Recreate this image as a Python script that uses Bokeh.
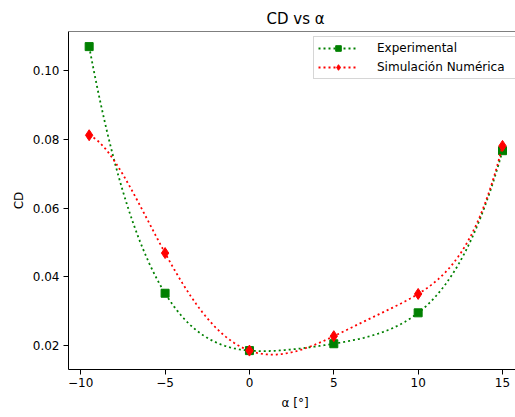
import numpy as np
from bokeh.plotting import figure
from bokeh.models import (Range1d, FixedTicker, Legend, LegendItem, Span,
                          Title, ColumnDataSource)
from bokeh.embed import file_html
from bokeh.resources import INLINE

# ---- data ----
alpha_deg = [-9.5, -5.0, 0.0, 5.0, 10.0, 15.0]
cd_experimental = [0.1070, 0.0352, 0.0185, 0.0205, 0.0295, 0.0767]
cd_simulation = [0.0812, 0.0469, 0.0185, 0.0227, 0.0350, 0.0781]
series_names = ["Experimental", "Simulación Numérica"]
x_ticks = [-10, -5, 0, 5, 10, 15]
x_tick_labels = ["−10", "−5", "0", "5", "10", "15"]
y_ticks = [0.02, 0.04, 0.06, 0.08, 0.10]
y_tick_labels = ["0.02", "0.04", "0.06", "0.08", "0.10"]

# smooth curves: the polynomial through the measured points, as in the reference
xs = np.linspace(min(alpha_deg), max(alpha_deg), 400)
deg = len(alpha_deg) - 1
smooth_exp = np.polyval(np.polyfit(alpha_deg, cd_experimental, deg), xs)
smooth_sim = np.polyval(np.polyfit(alpha_deg, cd_simulation, deg), xs)

FONT = "DejaVu Sans"
TXT = "#000000"

p = figure(width=515, height=417, output_backend="svg", toolbar_location=None,
           x_range=Range1d(-10.725, 15.77), y_range=Range1d(0.0130, 0.1114),
           min_border_left=68, min_border_right=0, min_border_top=31,
           min_border_bottom=48, background_fill_color="white",
           border_fill_color="white")
p.outline_line_color = None
p.xgrid.visible = False
p.ygrid.visible = False

for ax in (p.xaxis[0], p.yaxis[0]):
    ax.axis_line_color = "black"
    ax.major_tick_line_color = "black"
    ax.major_tick_out = 5
    ax.major_tick_in = 0
    ax.minor_tick_line_color = None
    ax.major_label_text_font = FONT
    ax.major_label_text_font_size = "12px"
    ax.major_label_text_color = TXT
    ax.axis_label_text_font = FONT
    ax.axis_label_text_font_size = "12px"
    ax.axis_label_text_font_style = "normal"
    ax.axis_label_text_color = TXT

p.xaxis.ticker = FixedTicker(ticks=x_ticks)
p.xaxis.major_label_overrides = dict(zip(x_ticks, x_tick_labels))
p.xaxis.major_label_standoff = 3
p.xaxis.axis_label = None
p.yaxis.ticker = FixedTicker(ticks=y_ticks)
p.yaxis.major_label_overrides = dict(zip(y_ticks, y_tick_labels))
p.yaxis.major_label_standoff = 4
p.yaxis.axis_label = "CD"
p.yaxis.axis_label_standoff = 4

# top spine of the frame
p.add_layout(Span(location=p.y_range.end, dimension="width",
                  line_color="black", line_width=1))

p.add_layout(Title(text="CD vs α", align="left", offset=198, text_font=FONT,
                   text_font_size="15px", text_font_style="normal",
                   text_color=TXT, standoff=8), "above")
p.add_layout(Title(text="α [°]", align="left", offset=213, text_font=FONT,
                   text_font_size="12px", text_font_style="normal",
                   text_color=TXT, standoff=8), "below")

src_exp = ColumnDataSource(dict(x=xs, y=smooth_exp))
src_sim = ColumnDataSource(dict(x=xs, y=smooth_sim))
l1 = p.line("x", "y", source=src_exp, line_color="green", line_width=1.8, line_dash="2 3")
s1 = p.scatter(alpha_deg, cd_experimental, marker="square", size=8,
               fill_color="green", line_color="green")
l2 = p.line("x", "y", source=src_sim, line_color="red", line_width=1.8, line_dash="2 3")
s2 = p.scatter(alpha_deg, cd_simulation, marker="diamond", size=11,
               fill_color="red", line_color="red")

legend = Legend(items=[LegendItem(label=series_names[0], renderers=[l1, s1]),
                       LegendItem(label=series_names[1], renderers=[l2, s2])],
                location=(245, 290), glyph_width=40, glyph_height=14,
                label_height=14, label_width=160, label_standoff=19, spacing=5,
                padding=4, label_text_font=FONT, label_text_font_size="12px",
                label_text_color=TXT, border_line_color="#cccccc",
                border_line_alpha=0.8, background_fill_alpha=0.8,
                margin=0)
p.add_layout(legend, "center")

open("out.html", "w").write(file_html(p, INLINE))
